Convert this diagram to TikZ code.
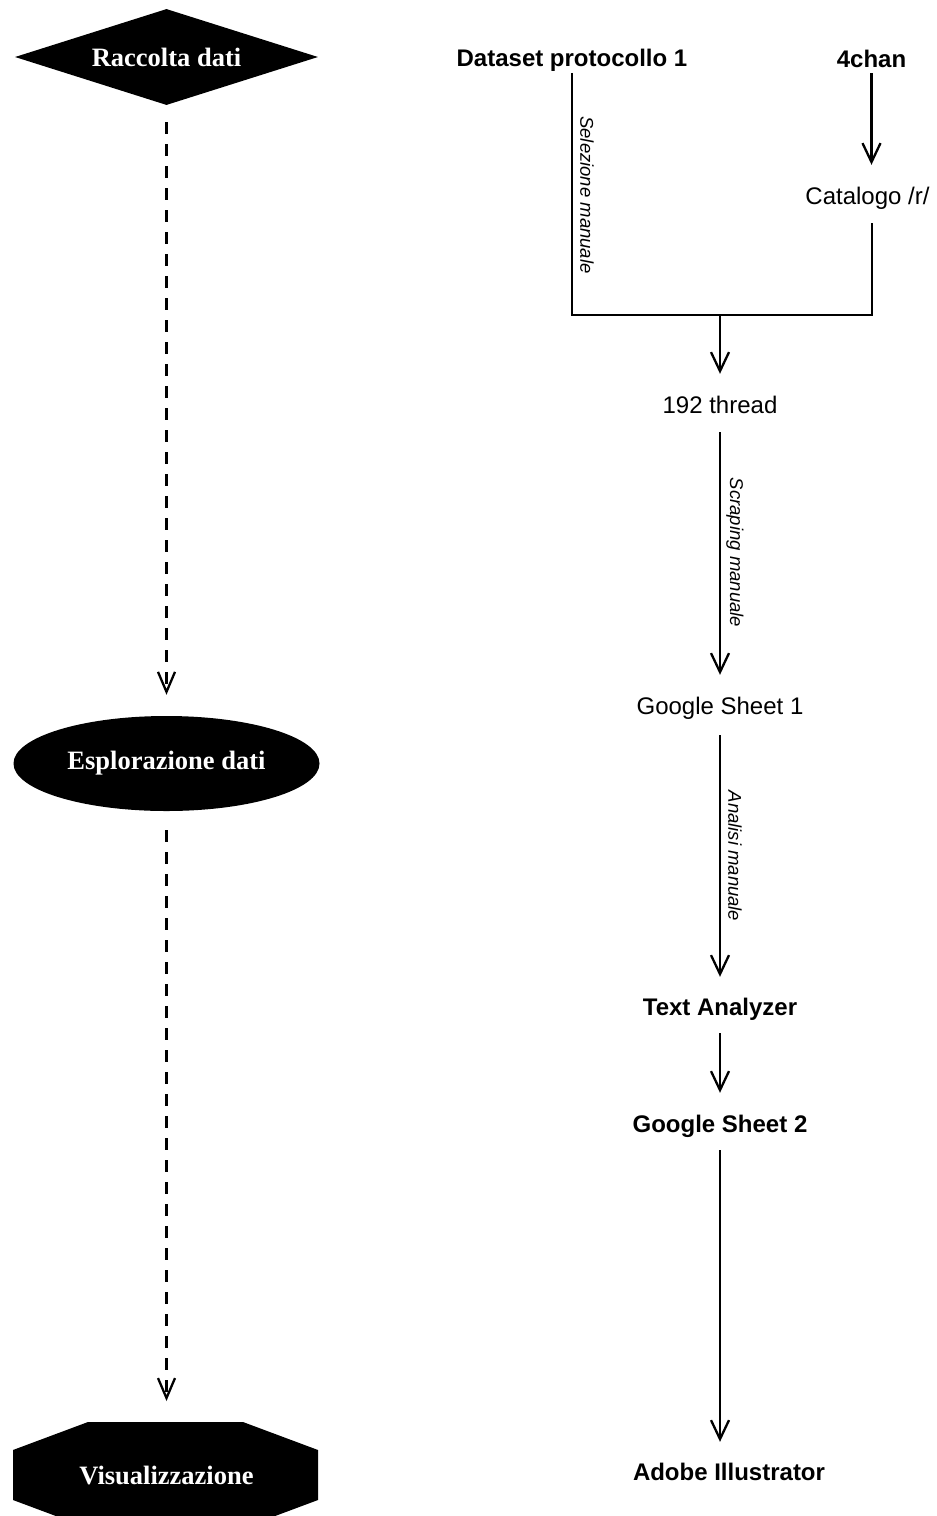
\documentclass[tikz,border=0pt]{standalone}
\usepackage{fontspec}
\setmainfont{Liberation Serif}
\setsansfont{Liberation Sans}
\usetikzlibrary{arrows.meta,shapes.geometric}
\tikzset{
  x=1pt,y=-1pt,
  phase/.style={font=\fontsize{26.5}{29}\selectfont\rmfamily\bfseries, text=white, fill=black, inner sep=0pt},
  tool/.style={font=\fontsize{24}{26}\selectfont\sffamily, text=black, inner sep=0pt, text height=18pt, text depth=6pt, anchor=base},
  toolb/.style={tool, font=\fontsize{24}{26}\selectfont\sffamily\bfseries},
  lbl/.style={font=\fontsize{18.5}{20}\selectfont\sffamily\itshape, inner sep=0pt, rotate=-90},
  ln/.style={line width=2.3pt, draw=black},
  arr/.style={ln, -{Straight Barb[length=19pt,width=18pt,line width=2.3pt]}, shorten <=13pt, shorten >=21pt},
  darr/.style={line width=2.3pt, dash pattern=on 12pt off 10pt, -{Straight Barb[length=20pt,width=17pt,line width=2.3pt]}}
}
\begin{document}
\begin{tikzpicture}
\useasboundingbox (0,0) rectangle (937,1516);
% left column: phases
\node[phase, diamond, aspect=3.2, minimum width=303pt, minimum height=96pt] (rd) at (166.5,57) {Raccolta dati};
\node[phase, ellipse, minimum width=306pt, minimum height=95pt] (ed) at (166.5,763.5) {Esplorazione dati};
\fill[black] (88,1422) -- (243,1422) -- (318,1450) -- (318,1500) -- (243,1528) -- (88,1528) -- (13,1500) -- (13,1450) -- cycle;
\coordinate (vist) at (166.5,1422);
\node[phase] (vis) at (166.5,1475) {Visualizzazione};
\draw[darr] ([yshift=-17pt]rd.south) -- ([yshift=21pt]ed.north);
\draw[darr] ([yshift=-19pt]ed.south) -- ([yshift=21pt]vist);
% right column: tools
\node[toolb] (ds) at (572,66.7) {Dataset protocollo 1};
\node[toolb] (chan) at (871.5,67) {4chan};
\node[tool] (cat) at (867.5,204) {Catalogo /r/};
\coordinate (j) at (720,315);
\node[tool] (thread) at (720,413) {192 thread};
\node[tool] (gs1) at (720,714) {Google Sheet 1};
\node[toolb] (ta) at (720,1015) {Text Analyzer};
\node[toolb] (gs2) at (720,1132) {Google Sheet 2};
\node[toolb] (ai) at (729,1480) {Adobe Illustrator};
% connectors
\draw[arr, shorten <=0pt] (chan.south) -- (chan.south |- cat.north);
\draw[ln] (ds.south) |- (j) -| ([yshift=-13pt,xshift=4.5pt]cat.south);
\draw[arr, shorten <=0pt] (j) -- (thread.north);
\draw[arr] (thread.south) -- (gs1.north);
\draw[arr, shorten <=15pt, shorten >=20pt] (gs1.south) -- (ta.north);
\draw[arr, shorten <=12pt] (ta.south) -- (gs2.north);
\draw[arr, shorten <=12pt, shorten >=20pt] (gs2.south) -- (gs2.south |- ai.north);
% edge labels
\node[lbl] (l1) at (587,195) {Selezione manuale};
\node[lbl] (l2) at (735,552.5) {Scraping manuale};
\node[lbl] (l3) at (735,856) {Analisi manuale};
\end{tikzpicture}
\end{document}
